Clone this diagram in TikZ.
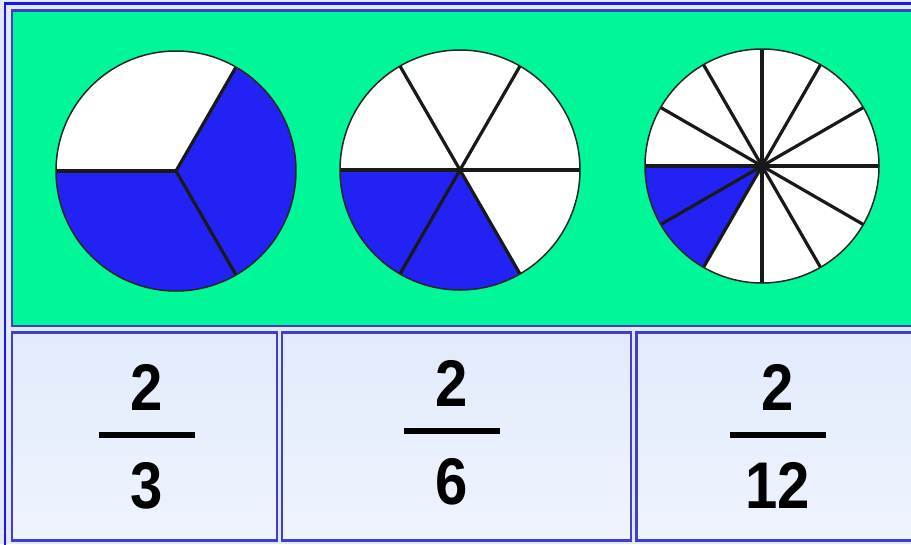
\documentclass[tikz,border=0pt]{standalone}
\usepackage{fontspec}
\setmainfont{Liberation Sans}
\newfontfamily\numfont{Liberation Sans}[FakeStretch=0.88]
\definecolor{panelgreen}{RGB}{0,247,152}
\definecolor{pieblue}{RGB}{34,34,245}
\definecolor{frameblue}{RGB}{62,62,208}
\definecolor{edgeblue}{RGB}{22,22,238}
\definecolor{backblue}{RGB}{226,233,252}
\definecolor{celltop}{RGB}{226,235,252}
\definecolor{cellbot}{RGB}{239,244,253}
\begin{document}
\begin{tikzpicture}[x=1pt,y=-1pt,
  panel/.style={draw=frameblue,line width=2.5pt},
  cell/.style={panel,top color=celltop,bottom color=cellbot},
  num/.style={font=\numfont\fontsize{66}{66}\selectfont\bfseries,inner sep=0pt,anchor=base},
  spoke/.style={line width=3.2pt,black!90}]
\useasboundingbox (0,0) rectangle (911,544);
\fill[backblue] (0,0) rectangle (911,544);
\draw[edgeblue,line width=2.5pt] (5,3.5) rectangle (930,560);
% top panel with the three pies
\draw[panel,fill=panelgreen] (12,10.5) rectangle (930,326);
\foreach \i/\cx/\cy/\r/\n in {1/176/171/120/3, 2/460/170/120/6, 3/762/166/117/12}{
  \coordinate (p\i) at (\cx,\cy);
  \fill[white] (p\i) circle (\r);
  \fill[pieblue] (p\i) -- ++(180-720/\n:\r) arc (180-720/\n:180:\r) -- cycle;
  \foreach \k in {1,...,\n}{\draw[spoke] (p\i) -- ++(180+\k*360/\n:\r);}
  \draw[black!85,line width=1.5pt] (p\i) circle (\r);
}
% bottom row with the fractions
\draw[cell] (12,332.5) rectangle (277,540.5);
\draw[cell] (282,332.5) rectangle (631,540.5);
\draw[cell] (636.5,332.5) rectangle (930,540.5);
\foreach \i/\x/\dy/\d in {1/147/0/3, 2/452/-4/6, 3/778/0/12}{
  \node[num] (n\i) at (\x,410+\dy) {2};
  \node[num] (d\i) at (\x,508+\dy) {\d};
  \draw[line width=5.5pt] (\x-48,435+\dy) -- (\x+48,435+\dy);
}
\end{tikzpicture}
\end{document}
